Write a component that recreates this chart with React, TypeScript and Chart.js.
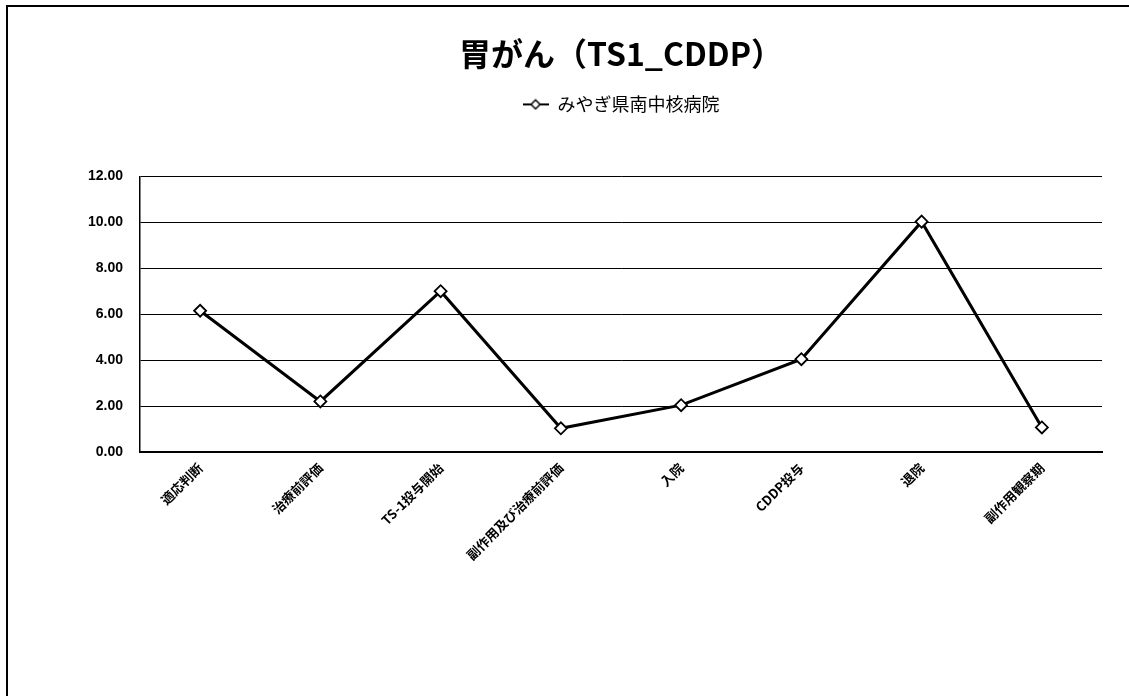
import React, { useEffect, useRef } from "react";
import { Chart, registerables } from "chart.js";

Chart.register(...registerables);

const categories = [
  "適応判断",
  "治療前評価",
  "TS-1投与開始",
  "副作用及び治療前評価",
  "入院",
  "CDDP投与",
  "退院",
  "副作用観察期",
];
const hospitalValues = [6.15, 2.2, 7.0, 1.03, 2.04, 4.04, 10.03, 1.07];
const seriesName = "みやぎ県南中核病院";
const chartTitle = "胃がん（TS1_CDDP）";
const yTicks = [0, 2, 4, 6, 8, 10, 12];

const JP = '"Noto Sans CJK JP", "Noto Sans", sans-serif';
const LAT = '"Liberation Sans", Arial, sans-serif';

function makeLegendMarker(): HTMLCanvasElement {
  const c = document.createElement("canvas");
  c.width = 26;
  c.height = 12;
  const ctx = c.getContext("2d")!;
  ctx.strokeStyle = "#000";
  ctx.lineWidth = 2;
  ctx.beginPath();
  ctx.moveTo(0, 6);
  ctx.lineTo(26, 6);
  ctx.stroke();
  ctx.beginPath();
  ctx.moveTo(13, 1.5);
  ctx.lineTo(17.5, 6);
  ctx.lineTo(13, 10.5);
  ctx.lineTo(8.5, 6);
  ctx.closePath();
  ctx.fillStyle = "#fff";
  ctx.fill();
  ctx.lineWidth = 1.5;
  ctx.stroke();
  return c;
}

export default function App() {
  const ref = useRef<HTMLCanvasElement | null>(null);

  useEffect(() => {
    if (!ref.current) return;
    const marker = makeLegendMarker();
    const legendSpacer = {
      id: "legendSpacer",
      beforeInit(chart: any) {
        const orig = chart.legend.fit;
        chart.legend.fit = function () {
          orig.call(this);
          this.height += 53;
        };
      },
    };
    const chart = new Chart(ref.current, {
      type: "line",
      data: {
        labels: categories,
        datasets: [
          {
            label: seriesName,
            data: hospitalValues,
            borderColor: "#000",
            borderWidth: 3,
            pointStyle: "rectRot",
            pointRadius: 6,
            pointBorderWidth: 1.8,
            pointBackgroundColor: "#fff",
            pointBorderColor: "#000",
            tension: 0,
          },
        ],
      },
      plugins: [legendSpacer],
      options: {
        responsive: false,
        animation: false,
        layout: { padding: { left: 0, right: 27, top: 0, bottom: 124 } },
        plugins: {
          title: {
            display: true,
            fullSize: false,
            text: chartTitle,
            color: "#000",
            font: { family: JP, size: 32, weight: "bold" },
            padding: { top: 35, bottom: 12 },
          },
          legend: {
            display: true,
            fullSize: false,
            labels: {
              color: "#000",
              font: { family: JP, size: 18 },
              usePointStyle: true,
              pointStyleWidth: 26,
              padding: 10,
              generateLabels: () => [
                {
                  text: seriesName,
                  pointStyle: marker as any,
                  fillStyle: "#fff",
                  strokeStyle: "#000",
                  lineWidth: 0,
                  datasetIndex: 0,
                  hidden: false,
                } as any,
              ],
            },
          },
          tooltip: { enabled: false },
        },
        scales: {
          x: {
            offset: true,
            grid: { display: false, drawTicks: false },
            border: { display: true, color: "#000", width: 2 },
            ticks: {
              color: "#000",
              font: { family: JP, size: 13, weight: "bold" },
              maxRotation: 45,
              minRotation: 45,
              padding: 8,
              autoSkip: false,
            },
            afterFit: (s: any) => {
              s.height = 120;
            },
          },
          y: {
            min: 0,
            max: 12,
            grid: { color: "#000", lineWidth: 1, drawTicks: false },
            border: { display: true, color: "#000", width: 1.5 },
            afterBuildTicks: (s: any) => {
              s.ticks = yTicks.map((v) => ({ value: v }));
            },
            ticks: {
              color: "#000",
              font: { family: LAT, size: 14, weight: "bold" },
              padding: 17,
              callback: (v: any) => Number(v).toFixed(2),
            },
            afterFit: (s: any) => {
              s.width = 140;
            },
          },
        },
      },
    });
    return () => chart.destroy();
  }, []);

  return (
    <div
      style={{
        position: "fixed",
        left: 0,
        top: 0,
        width: 1129,
        height: 696,
        background: "#fff",
        overflow: "hidden",
      }}
    >
      <div
        style={{
          position: "absolute",
          left: 6,
          top: 5,
          width: 1140,
          height: 720,
          borderLeft: "2px solid #000",
          borderTop: "2px solid #000",
        }}
      />
      <canvas
        ref={ref}
        width={1129}
        height={696}
        style={{ position: "absolute", left: 0, top: 0, width: 1129, height: 696 }}
      />
    </div>
  );
}
